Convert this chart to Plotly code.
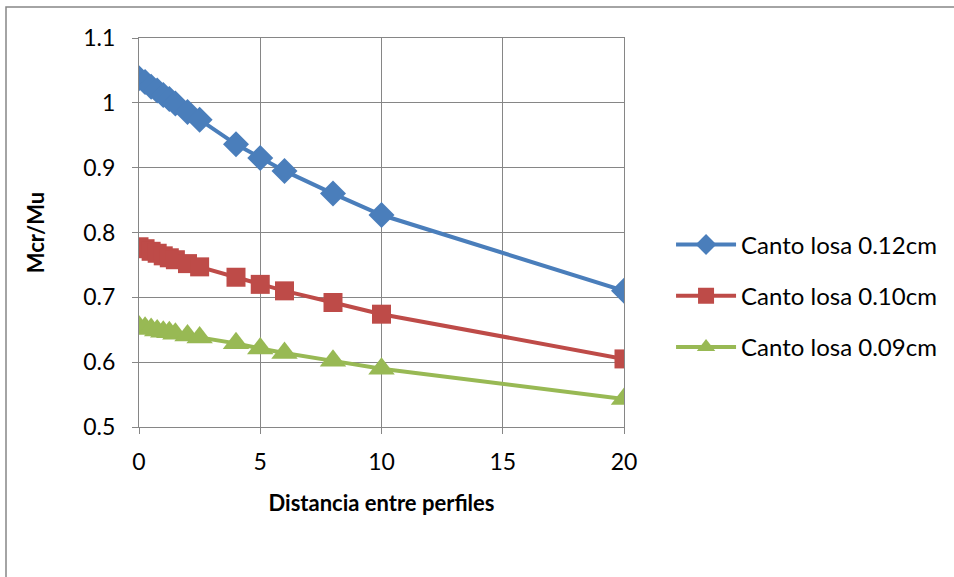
import plotly.graph_objects as go

# Distance between profiles (x) and Mcr/Mu ratio for each slab depth
distancia = [0, 0.25, 0.5, 0.75, 1, 1.25, 1.5, 2, 2.5, 4, 5, 6, 8, 10, 20]
canto_012 = [1.038, 1.032, 1.025, 1.019, 1.012, 1.006, 0.999, 0.986, 0.974,
             0.936, 0.915, 0.895, 0.860, 0.827, 0.710]
canto_010 = [0.778, 0.775, 0.771, 0.768, 0.764, 0.761, 0.758, 0.752, 0.747,
             0.731, 0.720, 0.710, 0.692, 0.674, 0.605]
canto_009 = [0.655, 0.653, 0.651, 0.649, 0.647, 0.646, 0.644, 0.641, 0.638,
             0.629, 0.621, 0.614, 0.602, 0.590, 0.543]

series = [
    ("Canto losa 0.12cm", canto_012, "#4A7EBB", "diamond", 20),
    ("Canto losa 0.10cm", canto_010, "#BE4B48", "square", 19),
    ("Canto losa 0.09cm", canto_009, "#98B954", "triangle-up", 23),
]

FONT = "Lato, Carlito, 'Liberation Sans', sans-serif"

fig = go.Figure()
for i, (name, vals, color, symbol, size) in enumerate(series):
    fig.add_trace(go.Scatter(
        x=distancia, y=vals, name=name, mode="lines+markers",
        legendgroup=str(i),
        line=dict(color=color, width=4),
        marker=dict(symbol=symbol, size=size, color=color),
    ))

axis_common = dict(
    showgrid=True, gridcolor="#868686", gridwidth=1,
    showline=True, linecolor="#868686", linewidth=1,
    ticks="outside", ticklen=6, tickcolor="#868686",
    tickfont=dict(family=FONT, size=23, color="#000000"),
    zeroline=False, mirror=True,
)

fig.update_xaxes(
    range=[0, 20], tickvals=[0, 5, 10, 15, 20],
    ticklabelstandoff=8,
    title=dict(text="<b>Distancia entre perfiles</b>",
               font=dict(family=FONT, size=22, color="#000000"), standoff=22),
    **axis_common,
)
fig.update_yaxes(
    range=[0.5, 1.1], tickvals=[0.5, 0.6, 0.7, 0.8, 0.9, 1.0, 1.1],
    ticktext=["0.5", "0.6", "0.7", "0.8", "0.9", "1", "1.1"],
    ticklabelstandoff=12,
    title=dict(text="<b>Mcr/Mu</b>",
               font=dict(family=FONT, size=22, color="#000000"), standoff=32),
    **axis_common,
)

fig.update_layout(
    width=954, height=577,
    margin=dict(l=139, r=330, t=38, b=150),
    paper_bgcolor="#FFFFFF", plot_bgcolor="#FFFFFF",
    font=dict(family=FONT, size=23, color="#000000"),
    legend=dict(
        x=1.097, y=0.337, xanchor="left", yanchor="middle",
        traceorder="grouped", tracegroupgap=17,
        font=dict(family=FONT, size=24, color="#000000"),
        itemwidth=60,
    ),
    shapes=[dict(
        type="rect", xref="paper", yref="paper",
        x0=-133 / 485, x1=1.8, y0=-0.5, y1=1 + 31 / 389,
        line=dict(color="#868686", width=1.5), fillcolor="rgba(0,0,0,0)",
        layer="below",
    )],
)

fig.write_html("out.html")
